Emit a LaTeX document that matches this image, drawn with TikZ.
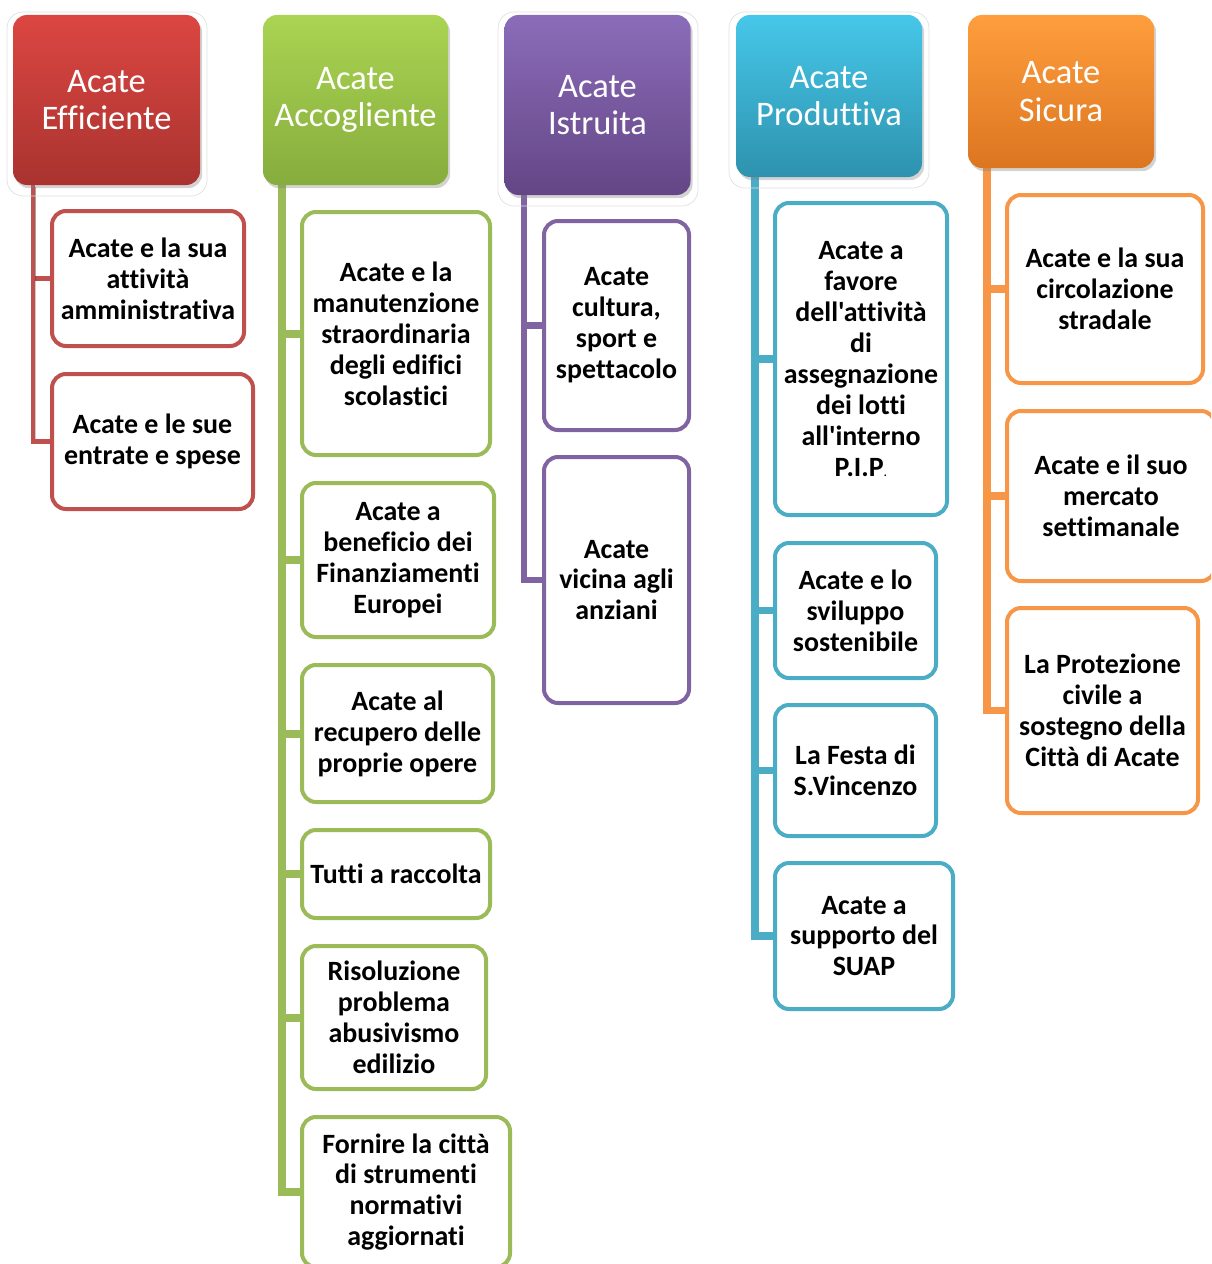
\documentclass[tikz,border=0pt]{standalone}
\usepackage{fontspec}
\setmainfont{Carlito}[Ligatures={TeXOff,CommonOff}]
\usetikzlibrary{shadows,backgrounds}
\newdimen\px \px=0.02cm
\definecolor{cred}{HTML}{C0504D}
\definecolor{cgreen}{HTML}{9BBB59}
\definecolor{cpurple}{HTML}{8064A2}
\definecolor{cblue}{HTML}{4BACC6}
\definecolor{corange}{HTML}{F79646}
\definecolor{redtop}{HTML}{DC4642}
\definecolor{redbot}{HTML}{A9332F}
\definecolor{greentop}{HTML}{AAD452}
\definecolor{greenbot}{HTML}{86AD3D}
\definecolor{purptop}{HTML}{8B6CB9}
\definecolor{purpbot}{HTML}{644686}
\definecolor{bluetop}{HTML}{46C7E9}
\definecolor{bluebot}{HTML}{2E92AE}
\definecolor{orantop}{HTML}{FF9E3D}
\definecolor{oranbot}{HTML}{DC7520}
\begin{document}
\begin{tikzpicture}[x=0.02cm,y=-0.02cm,
  hdr/.style={rectangle, rounded corners=14\px, inner sep=0pt, text=white,
    font=\fontsize{19.6}{21.5}\selectfont, align=center,
    drop shadow={opacity=0.35, shadow xshift=1.2pt, shadow yshift=-1.8pt}},
  halo/.style={draw=gray!25, line width=0.4pt, rounded corners=16\px},
  cbox/.style={rectangle, rounded corners=14\px, draw=#1, line width=4\px, fill=white,
    inner sep=0pt, font=\fontsize{15.9}{17.6}\selectfont\bfseries, align=center},
  trunk/.style={draw=#1, preaction={draw=black, opacity=0.2,
    transform canvas={xshift=1.3pt, yshift=-1.3pt}}}
]
\useasboundingbox (0,0) rectangle (1211,1264);
\clip (0,0) rectangle (1211,1264);

% halos
\draw[halo] (7,12) rectangle (207,196);
\draw[halo] (498,12) rectangle (698,206);
\draw[halo] (729,12) rectangle (929,188);

% headers
\node[hdr, top color=redtop, bottom color=redbot, minimum width=187\px, minimum height=170\px] (rh) at (106.5,100) {Acate\\Efficiente};
\node[hdr, top color=greentop, bottom color=greenbot, minimum width=185\px, minimum height=170\px] (gh) at (355.5,100) {Acate\\Accogliente};
\node[hdr, top color=purptop, bottom color=purpbot, minimum width=186\px, minimum height=180\px] (ph) at (597.5,105) {Acate\\Istruita};
\node[hdr, top color=bluetop, bottom color=bluebot, minimum width=186\px, minimum height=162\px] (bh) at (829,96) {Acate\\Produttiva};
\node[hdr, top color=orantop, bottom color=oranbot, minimum width=186\px, minimum height=153\px] (oh) at (1061,91.5) {Acate\\Sicura};

% red children
\node[cbox=cred, minimum width=192\px, minimum height=135\px] (r1) at (148,278.5) {Acate e la sua\\attività\\amministrativa};
\node[cbox=cred, minimum width=201\px, minimum height=135\px] (r2) at (152.5,441.5) {Acate e le sue\\entrate e spese};

% green children
\node[cbox=cgreen, minimum width=188\px, minimum height=243\px] (g1) at (396,333.5) {Acate e la\\manutenzione\\straordinaria\\degli edifici\\scolastici};
\node[cbox=cgreen, minimum width=192\px, minimum height=154\px] (g2) at (398,560) {Acate a\\beneficio dei\\Finanziamenti\\Europei};
\node[cbox=cgreen, minimum width=191\px, minimum height=137\px] (g3) at (397.5,733.5) {Acate al\\recupero delle\\proprie opere};
\node[cbox=cgreen, minimum width=188\px, minimum height=88\px] (g4) at (396,874) {Tutti a raccolta};
\node[cbox=cgreen, minimum width=184\px, minimum height=143\px] (g5) at (394,1017.5) {Risoluzione\\problema\\abusivismo\\edilizio};
\node[cbox=cgreen, minimum width=208\px, minimum height=150\px] (g6) at (406,1192) {Fornire la città\\di strumenti\\normativi\\aggiornati};

% purple children
\node[cbox=cpurple, minimum width=145\px, minimum height=209\px] (p1) at (616.5,325.5) {Acate\\cultura,\\sport e\\spettacolo};
\node[cbox=cpurple, minimum width=145\px, minimum height=246\px] (p2) at (616.5,580) {Acate\\vicina agli\\anziani};

% blue children
\node[cbox=cblue, minimum width=172\px, minimum height=312\px] (b1) at (861,359) {Acate a\\favore\\dell'attività\\di\\assegnazione\\dei lotti\\all'interno\\P.I.P{\mdseries\fontsize{8}{10}\selectfont.}};
\node[cbox=cblue, minimum width=161\px, minimum height=135\px] (b2) at (855.5,610.5) {Acate e lo\\sviluppo\\sostenibile};
\node[cbox=cblue, minimum width=161\px, minimum height=131\px] (b3) at (855.5,770.5) {La Festa di\\S.Vincenzo};
\node[cbox=cblue, minimum width=178\px, minimum height=146\px] (b4) at (864,936) {Acate a\\supporto del\\SUAP};

% orange children
\node[cbox=corange, minimum width=196\px, minimum height=188\px] (o1) at (1105,289) {Acate e la sua\\circolazione\\stradale};
\node[cbox=corange, minimum width=208\px, minimum height=170\px] (o2) at (1111,496) {Acate e il suo\\mercato\\settimanale};
\node[cbox=corange, minimum width=191\px, minimum height=205\px] (o3) at (1102.5,710.5) {La Protezione\\civile a\\sostegno della\\Città di Acate};

% trunk start points
\coordinate (rt) at (33,185);
\coordinate (gt) at (282,185);
\coordinate (pt) at (524,195);
\coordinate (bt) at (755,177);
\coordinate (ot) at (987,168);

\begin{pgfonlayer}{background}
\foreach \c in {r1,r2} \draw[trunk=cred, line width=4.5\px] (rt) |- (\c.west);
\foreach \c in {g1,g2,g3,g4,g5,g6} \draw[trunk=cgreen, line width=8\px] (gt) |- (\c.west);
\foreach \c in {p1,p2} \draw[trunk=cpurple, line width=6.5\px] (pt) |- (\c.west);
\foreach \c in {b1,b2,b3,b4} \draw[trunk=cblue, line width=7.5\px] (bt) |- (\c.west);
\foreach \c in {o1,o2,o3} \draw[trunk=corange, line width=7.5\px] (ot) |- (\c.west);
\end{pgfonlayer}
\end{tikzpicture}
\end{document}
